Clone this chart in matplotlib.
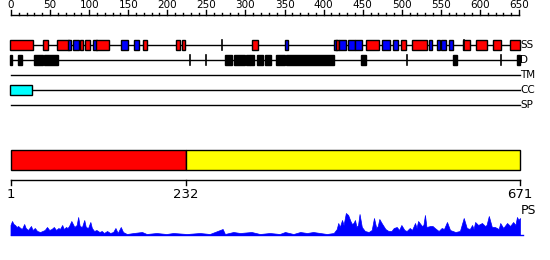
import matplotlib
matplotlib.use('Agg')
import matplotlib.pyplot as plt
from matplotlib.patches import Rectangle

SEQ_LEN = 671

# secondary structure: (start, end, type) h = helix (red), e = strand (blue)
ss_elems = [
    (1, 30, 'h'), (44, 50, 'h'), (63, 77, 'h'), (77, 80, 'e'), (84, 91, 'e'),
    (93, 96, 'h'), (100, 105, 'h'), (110, 114, 'e'), (114, 130, 'h'),
    (147, 155, 'e'), (164, 170, 'e'), (176, 180, 'h'), (219, 224, 'h'),
    (227, 230, 'h'), (319, 326, 'h'), (362, 365, 'e'), (427, 430, 'e'),
    (430, 433, 'h'), (433, 442, 'e'), (445, 453, 'e'), (454, 463, 'e'),
    (469, 485, 'h'), (490, 499, 'e'), (504, 510, 'e'), (515, 520, 'h'),
    (529, 548, 'h'), (552, 555, 'e'), (562, 565, 'e'), (568, 573, 'e'),
    (578, 583, 'e'), (596, 605, 'h'), (613, 627, 'h'), (636, 645, 'h'),
    (659, 670, 'h'),
]
ss_marks = [279, 598]

# disordered regions
dis_elems = [
    (1, 3), (12, 16), (32, 43), (45, 63), (284, 292), (295, 309), (311, 315),
    (317, 321), (325, 332), (336, 343), (350, 362), (364, 426), (463, 468),
    (583, 587), (668, 670),
]
dis_marks = [237, 258, 522, 646]

# coiled coil
cc_elems = [(1, 29)]

# domain split
dom_bounds = [1, 232, 671]
dom_colors = ['#ff0000', '#ffff00']

# PS profile (residue, height)
ps_pos = [1, 3, 5, 7, 9, 11, 14, 16, 19, 21, 24, 28, 30, 33, 36, 40, 43, 46,
          49, 52, 55, 58, 61, 64, 66, 69, 71, 74, 76, 78, 81, 83, 85, 88, 90,
          92, 95, 98, 100, 103, 106, 108, 111, 114, 118, 121, 124, 128, 132,
          136, 139, 142, 146, 149, 154, 163, 174, 180, 193, 206, 215, 233,
          250, 263, 280, 283, 294, 303, 318, 329, 342, 355,
          362, 373, 382, 391, 399, 408, 417, 426, 430, 432, 434, 437, 439,
          442, 445, 448, 450, 452, 454, 456, 458, 460, 463, 467, 472, 476,
          479, 482, 484, 486, 489, 494, 498, 502, 505, 509, 512, 515, 519,
          522, 526, 529, 533, 535, 537, 542, 544, 546, 548, 553, 556, 559,
          564, 568, 571, 575, 579, 586, 592, 597, 601, 605, 608, 610, 612,
          616, 621, 625, 627, 630, 634, 638, 643, 645, 649, 654, 658, 662,
          665, 667, 669, 671]
ps_val = [10, 14, 11, 10, 8, 9, 7, 6, 11, 7, 5, 9, 5, 7, 4, 3, 4, 5,
          8, 5, 6, 8, 5, 7, 6, 10, 6, 8, 7, 9, 14, 11, 8, 10, 18,
          9, 8, 15, 8, 7, 13, 7, 4, 5, 3, 4, 2, 4, 2,
          3, 7, 2, 8, 3, 1, 2, 3, 1, 2, 1, 2, 1,
          2, 1, 6, 1, 3, 2, 3, 1, 2, 1,
          3, 1, 3, 2, 3, 2, 1, 2, 6, 12, 8, 15, 10,
          22, 20, 14, 11, 12, 15, 8, 10, 21, 8, 4, 3, 5,
          17, 7, 9, 16, 12, 6, 4, 4, 7, 8, 5, 10, 5,
          4, 7, 5, 12, 7, 14, 9, 10, 20, 8, 9, 9, 7,
          4, 7, 6, 13, 5, 3, 4, 17, 7, 6, 10, 6, 13,
          10, 12, 9, 10, 19, 8, 8, 6, 12, 7, 12, 9, 13,
          10, 18, 15, 17]

ruler_ticks = list(range(0, 651, 50))
ruler_minor = list(range(0, 651, 10))

# pixel layout helpers
PX_PER_RES = 509.5 / 670
X0 = 1 - 10.5 / PX_PER_RES
X1 = 1 + 539.5 / PX_PER_RES
RUL_PX = 508 / 650

fig = plt.figure(figsize=(5.5, 2.6), dpi=100)
ax = fig.add_axes([0, 0, 1, 1])
ax.set_xlim(X0, X1)
ax.set_ylim(260, 0)
ax.axis('off')

# top ruler on its own scale
rax = fig.add_axes([0, 0, 1, 1], sharey=ax)
rax.set_xlim(-11 / RUL_PX, 539 / RUL_PX)
rax.axis('off')
rax.plot([0, 650], [15, 15], color='black', lw=1)
for t in ruler_minor:
    top = 10 if t in ruler_ticks else 12.5
    rax.plot([t, t], [top, 15], color='black', lw=1)
for t in ruler_ticks:
    rax.text(t, 10, str(t), ha='center', va='bottom', fontsize=7.5)


def track(y, label):
    ax.plot([1, SEQ_LEN], [y, y], color='black', lw=1, zorder=1)
    ax.text(SEQ_LEN + 0.5, y, label, ha='left', va='center', fontsize=7.5)


def box(s, e, y, color, h=10):
    ax.add_patch(Rectangle((s - 0.5, y - h / 2), e - s + 1, h, facecolor=color,
                           edgecolor='black', lw=1, zorder=2))


# SS
track(45, 'SS')
for s, e, k in ss_elems:
    box(s, e, 45, '#ff0000' if k == 'h' else '#0000ff')
for m in ss_marks:
    ax.plot([m, m], [40, 50], color='black', lw=1.2, zorder=3)

# disorder
track(60, 'D')
for s, e in dis_elems:
    box(s, e, 60, 'black')
for m in dis_marks:
    ax.plot([m, m], [55, 65], color='black', lw=1.2, zorder=3)

track(75, 'TM')
track(90, 'CC')
for s, e in cc_elems:
    box(s, e, 90, '#00ffff')
track(105, 'SP')

# domains
for i in range(len(dom_bounds) - 1):
    s, e = dom_bounds[i], dom_bounds[i + 1]
    ax.add_patch(Rectangle((s, 150), e - s, 20, facecolor=dom_colors[i],
                           edgecolor='black', lw=1, zorder=2))

# bottom scale
ax.plot([1, SEQ_LEN], [180, 180], color='black', lw=1)
for t in dom_bounds:
    ax.plot([t, t], [180, 184.5], color='black', lw=1)
    ax.text(t, 188, str(t), ha='center', va='top', fontsize=9.5)

# PS profile
ax.fill_between(ps_pos, 235, [235 - v for v in ps_val], color='#0000ff', lw=0.5)
ax.plot([1, SEQ_LEN + 4], [235, 235], color='#0000ff', lw=1)
ax.text(SEQ_LEN + 1, 211, 'PS', ha='left', va='center', fontsize=9)

fig.savefig('out.png', dpi=100)
